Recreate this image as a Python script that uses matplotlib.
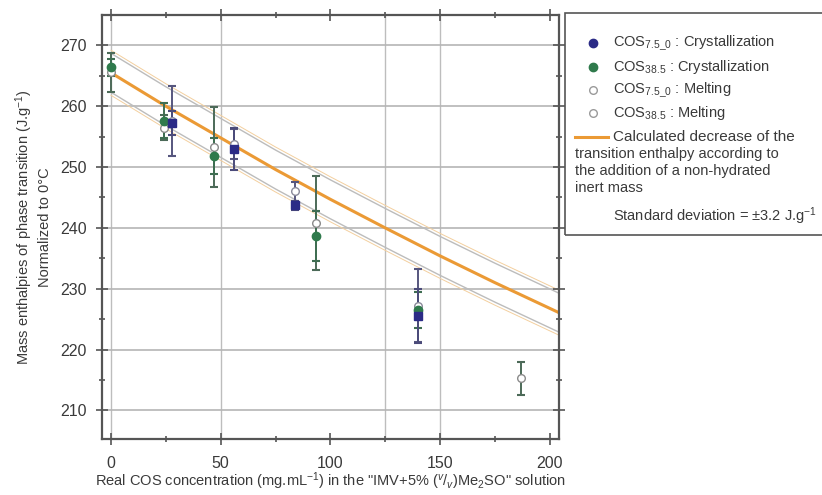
import numpy as np
import matplotlib
matplotlib.use('Agg')
import matplotlib.pyplot as plt
from matplotlib.lines import Line2D
from matplotlib.patches import Rectangle

plt.rcParams['font.family'] = ['Liberation Sans', 'DejaVu Sans']
plt.rcParams['mathtext.fontset'] = 'custom'
plt.rcParams['mathtext.rm'] = 'Liberation Sans'
plt.rcParams['mathtext.it'] = 'Liberation Sans:italic'

# ---------------- datos ----------------
# COS 7.5_0 : cristalizacion (azul, relleno)
blueCrystX = [28, 56, 84, 140]
blueCrystY = [257.3, 253.0, 243.7, 225.5]
blueCrystErr = [2.0, 3.5, 0.8, 4.5]

# COS 38.5 : cristalizacion (verde, relleno)
greenCrystX = [0, 24, 47, 93.5, 140]
greenCrystY = [266.4, 257.6, 251.8, 238.7, 226.5]
greenCrystErr = [1.4, 2.9, 3.0, 4.1, 3.0]

# COS 7.5_0 : fusion (abierto)
blueMeltX = [28, 56, 84, 140]
blueMeltY = [257.6, 253.8, 246.0, 227.2]
blueMeltErr = [5.7, 2.5, 1.5, 6.0]

# COS 38.5 : fusion (abierto)
greenMeltX = [0, 24, 47, 93.5, 187]
greenMeltY = [265.6, 256.5, 253.3, 240.8, 215.3]
greenMeltErr = [3.2, 2.0, 6.5, 7.7, 2.7]

# curva calculada y desviacion estandar
calcX = [0, 25, 50, 75, 100, 125, 150, 175, 204]
calcY = [265.5, 260.0, 254.8, 249.6, 244.7, 240.0, 235.4, 231.0, 226.1]
stdDev = 3.2

xTicks = [0, 50, 100, 150, 200]
yTicks = [210, 220, 230, 240, 250, 260, 270]
xGrid = [0, 50, 125, 150]

textColor = '#3a3a3a'
blue = '#2b2b86'
green = '#2f7a4c'
orange = '#eb9a35'

# ---------------- figura ----------------
W, H = 822, 495
fig = plt.figure(figsize=(W / 100, H / 100), dpi=100)
ax = fig.add_axes([102 / W, 1 - 439 / H, (559 - 102) / W, (439 - 15) / H])

for gx in xGrid:
    ax.axvline(gx, color='#bdbdbd', lw=1.0, zorder=0)
for gy in yTicks:
    ax.axhline(gy, color='#b5b5b5', lw=1.2, zorder=0)

cx = np.array(calcX)
cy = np.array(calcY)
ax.plot(cx, cy + stdDev, color='#bcbcbc', lw=1.0, zorder=1)
ax.plot(cx, cy + stdDev + 0.5, color='#f3cf9e', lw=0.7, zorder=1)
ax.plot(cx, cy - stdDev, color='#bcbcbc', lw=1.0, zorder=1)
ax.plot(cx, cy - stdDev - 0.5, color='#f3cf9e', lw=0.7, zorder=1)
ax.plot(cx, cy, color=orange, lw=2.2, zorder=2)

ebKw = dict(capsize=3, capthick=1.5, elinewidth=1.4, zorder=3)
ax.errorbar(greenMeltX, greenMeltY, yerr=greenMeltErr, fmt='o', ms=5.5,
            mfc='white', mec='#8a8a8a', ecolor='#4c6a58', **ebKw)
ax.errorbar(blueMeltX, blueMeltY, yerr=blueMeltErr, fmt='o', ms=5.5,
            mfc='white', mec='#8a8a9a', ecolor='#56567e', **ebKw)
ax.errorbar(greenCrystX, greenCrystY, yerr=greenCrystErr, fmt='o', ms=6,
            mfc=green, mec=green, ecolor='#3f6e52', **ebKw)
ax.errorbar(blueCrystX, blueCrystY, yerr=blueCrystErr, fmt='s', ms=6,
            mfc=blue, mec=blue, ecolor='#4b4b7a', **ebKw)

ax.set_xlim(-4.1, 204.2)
ax.set_ylim(205.3, 275.0)
ax.set_xticks(xTicks)
ax.set_xticks([25, 75, 125, 175], minor=True)
ax.set_yticks(yTicks)
ax.set_yticks([215, 225, 235, 245, 255, 265], minor=True)
ax.tick_params(which='both', direction='inout', top=True, right=True,
               colors='#555555', labelcolor=textColor, labelsize=11.5, width=1.2)
ax.tick_params(which='major', length=8)
ax.tick_params(which='minor', length=5)
ax.tick_params(axis='x', which='major', pad=8)
ax.tick_params(axis='y', which='major', pad=7)
for s in ax.spines.values():
    s.set_color('#555555')
    s.set_linewidth(1.6)

ax.set_ylabel('Mass enthalpies of phase transition (J.g$^{-1}$)\nNormalized to 0°C',
              fontsize=10.5, color=textColor, labelpad=6, linespacing=1.25)
ax.set_xlabel('Real COS concentration (mg.mL$^{-1}$) in the "IMV+5% ($^{v}$/$_{v}$)Me$_{2}$SO" solution',
              fontsize=10.5, color=textColor, labelpad=0)

# ---------------- leyenda manual ----------------
def fx(px):
    return px / W

def fy(py):
    return 1 - py / H

fig.add_artist(Rectangle((fx(565), fy(235)), fx(300), 222 / H, transform=fig.transFigure,
                         fill=False, ec='#555555', lw=1.2))

legRows = [
    (43, dict(marker='o', ms=6, mfc=blue, mec=blue), r'COS$_{7.5\_0}$ : Crystallization'),
    (67, dict(marker='o', ms=6, mfc=green, mec=green), r'COS$_{38.5}$ : Crystallization'),
    (90, dict(marker='o', ms=5.5, mfc='white', mec='#9a9a9a'), r'COS$_{7.5\_0}$ : Melting'),
    (113, dict(marker='o', ms=5.5, mfc='white', mec='#9a9a9a'), r'COS$_{38.5}$ : Melting'),
]
for rowY, mk, label in legRows:
    fig.add_artist(Line2D([fx(593)], [fy(rowY)], transform=fig.transFigure, ls='none', **mk))
    fig.text(fx(613), fy(rowY), label, fontsize=10.5, color=textColor, va='center')

fig.add_artist(Line2D([fx(575), fx(608)], [fy(137), fy(137)], transform=fig.transFigure,
                      color=orange, lw=2.2))
fig.text(fx(613), fy(137), 'Calculated decrease of the', fontsize=11, color=textColor, va='center')
fig.text(fx(575), fy(147), 'transition enthalpy according to\nthe addition of a non-hydrated\ninert mass',
         fontsize=10.5, color=textColor, va='top', linespacing=1.25)
fig.text(fx(613), fy(216), 'Standard deviation = ±3.2 J.g$^{-1}$', fontsize=10.5,
         color=textColor, va='center')

plt.savefig('out.png', dpi=100)
